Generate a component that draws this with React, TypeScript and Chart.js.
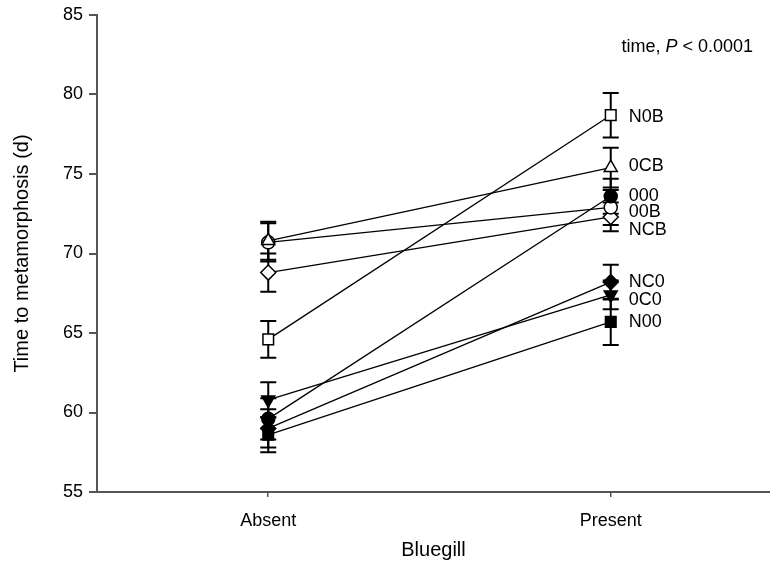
import React, { useEffect, useRef } from "react";
import { Chart, registerables } from "chart.js";

Chart.register(...registerables);

const categories = ["Absent", "Present"];
const groups = ["N0B", "0CB", "000", "00B", "NCB", "NC0", "0C0", "N00"];
const absentMeans = [64.6, 70.8, 59.6, 70.7, 68.8, 59.0, 60.8, 58.6];
const presentMeans = [78.7, 75.4, 73.6, 72.9, 72.3, 68.2, 67.4, 65.7];
const absentErr = [1.15, 1.2, 1.3, 1.2, 1.2, 1.2, 1.1, 1.1];
const presentErr = [1.4, 1.25, 1.1, 1.1, 0.9, 1.1, 0.9, 1.45];
// value at which each group's label sits beside the Present point
const labelValues = [78.6, 75.5, 73.6, 72.6, 71.5, 68.2, 67.1, 65.7];
const markerStyles = ["rect", "triangle", "circle", "circle", "rectRot", "rectRot", "triangle", "rect"];
const markerFilled = [false, false, true, false, false, true, true, true];
const markerRotation = [0, 0, 0, 0, 0, 0, 180, 0];
const markerRadius = [7.5, 7.5, 6.5, 6.5, 7.5, 7.5, 7.5, 7.5];
const yTicks = [55, 60, 65, 70, 75, 80, 85];

const FONT = "'Liberation Sans', Arial, sans-serif";

const errorBarPlugin = {
  id: "errorBars",
  beforeDatasetsDraw(chart: any) {
    const { ctx, scales } = chart;
    const x = scales.x;
    const y = scales.y;
    ctx.save();
    ctx.strokeStyle = "#000";
    ctx.lineWidth = 2;
    groups.forEach((_, i) => {
      [
        [0, absentMeans[i], absentErr[i]],
        [1, presentMeans[i], presentErr[i]],
      ].forEach(([cx, m, e]) => {
        const px = x.getPixelForValue(cx);
        const top = y.getPixelForValue(m + e);
        const bot = y.getPixelForValue(m - e);
        ctx.beginPath();
        ctx.moveTo(px, top);
        ctx.lineTo(px, bot);
        ctx.moveTo(px - 8, top);
        ctx.lineTo(px + 8, top);
        ctx.moveTo(px - 8, bot);
        ctx.lineTo(px + 8, bot);
        ctx.stroke();
      });
    });
    ctx.restore();
  },
};

const textPlugin = {
  id: "texts",
  afterDraw(chart: any) {
    const { ctx, scales } = chart;
    const x = scales.x;
    const y = scales.y;
    ctx.save();
    ctx.fillStyle = "#000";
    ctx.font = `18px ${FONT}`;
    ctx.textAlign = "left";
    ctx.textBaseline = "middle";
    const lx = x.getPixelForValue(1) + 18;
    groups.forEach((g, i) => {
      ctx.fillText(g, lx, y.getPixelForValue(labelValues[i]));
    });
    // annotation
    const right = chart.chartArea.right - 17;
    const ty = y.getPixelForValue(83.0);
    const parts: [string, string][] = [
      ["time, ", ""],
      ["P", "italic "],
      [" < 0.0001", ""],
    ];
    const fs = 18;
    let total = 0;
    const widths = parts.map(([t, s]) => {
      ctx.font = `${s}${fs}px ${FONT}`;
      const w = ctx.measureText(t).width;
      total += w;
      return w;
    });
    let cx = right - total;
    parts.forEach(([t, s], i) => {
      ctx.font = `${s}${fs}px ${FONT}`;
      ctx.fillText(t, cx, ty);
      cx += widths[i];
    });
    ctx.restore();
  },
};

export default function App() {
  const ref = useRef<HTMLCanvasElement | null>(null);
  useEffect(() => {
    if (!ref.current) return;
    const datasets = groups.map((g, i) => ({
      label: g,
      data: [
        { x: 0, y: absentMeans[i] },
        { x: 1, y: presentMeans[i] },
      ],
      showLine: true,
      borderColor: "#000",
      borderWidth: 1.3,
      pointStyle: markerStyles[i],
      pointRotation: markerRotation[i],
      pointRadius: markerRadius[i],
      pointBorderWidth: 1.5,
      pointBorderColor: "#000",
      pointBackgroundColor: markerFilled[i] ? "#000" : "#fff",
      clip: false,
    }));
    const chart = new Chart(ref.current, {
      type: "scatter",
      data: { datasets },
      plugins: [errorBarPlugin, textPlugin],
      options: {
        animation: false,
        responsive: false,
        devicePixelRatio: 1,
        layout: { autoPadding: false, padding: { top: 15, right: 0, left: 0, bottom: 0 } },
        plugins: { legend: { display: false }, tooltip: { enabled: false } },
        scales: {
          x: {
            type: "linear",
            min: -0.5,
            max: 1.465,
            afterBuildTicks: (axis: any) => {
              axis.ticks = [{ value: 0 }, { value: 1 }];
            },
            afterFit: (scale: any) => {
              scale.height = 70;
              scale.paddingLeft = 0;
              scale.paddingRight = 0;
            },
            ticks: {
              callback: (v: any) => categories[v] ?? "",
              font: { family: FONT, size: 18 },
              color: "#000",
              padding: 13,
            },
            grid: { drawOnChartArea: false, tickLength: 5, color: "#555", lineWidth: 1.5 },
            border: { color: "#555", width: 2 },
            title: {
              display: true,
              text: "Bluegill",
              font: { family: FONT, size: 20 },
              color: "#000",
              padding: { top: 4, bottom: 0 },
            },
          },
          y: {
            min: 55,
            max: 85,
            afterBuildTicks: (axis: any) => {
              axis.ticks = yTicks.map((v) => ({ value: v }));
            },
            afterFit: (scale: any) => {
              scale.width = 97;
              scale.paddingTop = 0;
              scale.paddingBottom = 0;
            },
            ticks: {
              font: { family: FONT, size: 18 },
              color: "#000",
              padding: 6,
            },
            grid: { drawOnChartArea: false, tickLength: 8, color: "#555", lineWidth: 2 },
            border: { color: "#555", width: 2 },
            title: {
              display: true,
              text: "Time to metamorphosis (d)",
              font: { family: FONT, size: 20 },
              color: "#000",
              padding: { top: 10, bottom: 4 },
            },
          },
        },
      },
    } as any);
    return () => chart.destroy();
  }, []);
  return (
    <div style={{ position: "fixed", left: 0, top: 0, width: 770, height: 562, background: "#fff" }}>
      <canvas ref={ref} width={770} height={562} style={{ display: "block" }} />
    </div>
  );
}
